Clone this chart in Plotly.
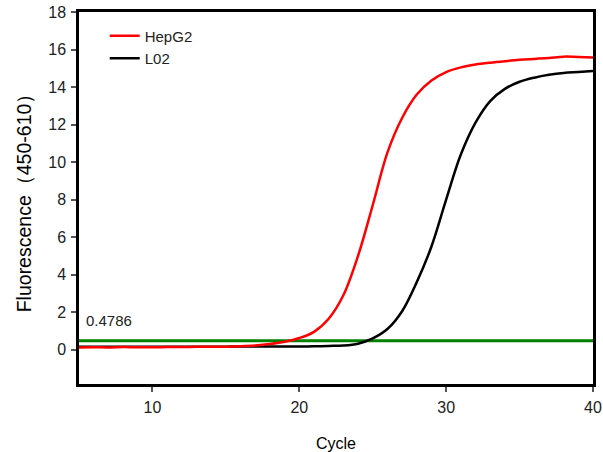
import plotly.graph_objects as go

cycles = list(range(5, 41))
hepg2 = [0.12, 0.13, 0.12, 0.14, 0.13, 0.13, 0.14, 0.14, 0.15, 0.15, 0.16, 0.18,
         0.22, 0.30, 0.42, 0.62, 0.95, 1.65, 2.90, 5.00, 7.70, 10.50, 12.35, 13.60,
         14.35, 14.80, 15.05, 15.20, 15.30, 15.38, 15.45, 15.50, 15.55, 15.62, 15.60, 15.58]
l02 = [0.15, 0.15, 0.15, 0.15, 0.16, 0.16, 0.16, 0.16, 0.16, 0.16, 0.16, 0.17,
       0.17, 0.17, 0.17, 0.17, 0.18, 0.20, 0.22, 0.32, 0.60, 1.10, 2.05, 3.60,
       5.50, 8.00, 10.40, 12.10, 13.25, 13.90, 14.28, 14.50, 14.65, 14.75, 14.80, 14.85]
threshold = 0.4786
threshold_x = [5, 40]

font = "Liberation Sans, Arial, sans-serif"

fig = go.Figure()
fig.add_trace(go.Scatter(x=threshold_x, y=[threshold, threshold], mode="lines",
                         line=dict(color="#008000", width=3), showlegend=False,
                         hoverinfo="skip"))
fig.add_trace(go.Scatter(x=cycles, y=l02, mode="lines", name="L02",
                         line=dict(color="black", width=2.5, shape="spline", smoothing=1.0)))
fig.add_trace(go.Scatter(x=cycles, y=hepg2, mode="lines", name="HepG2",
                         line=dict(color="red", width=2.5, shape="spline", smoothing=1.0)))

fig.add_annotation(x=5.35, y=1.55, xref="x", yref="y", text=f"{threshold}",
                   showarrow=False, xanchor="left", yanchor="middle",
                   font=dict(family=font, size=15, color="#222"))

axis_common = dict(showline=True, linewidth=2.5, linecolor="black", mirror=True,
                   ticks="outside", ticklen=5, tickwidth=1.5, tickcolor="#555",
                   showgrid=False, zeroline=False, automargin=False,
                   tickfont=dict(family=font, size=16, color="#222"))

fig.update_xaxes(range=[5, 40], tick0=0, dtick=10, ticklabelstandoff=2,
                 title=dict(text="Cycle", font=dict(family=font, size=16, color="black"),
                            standoff=23),
                 **axis_common)
fig.update_yaxes(range=[-1.83, 18], tick0=0, dtick=2, ticklabelstandoff=2,
                 title=dict(text="Fluorescence（450-610）",
                            font=dict(family=font, size=19.5, color="black"), standoff=12),
                 **axis_common)

fig.update_layout(
    width=603, height=452,
    margin=dict(l=79, r=10, t=12, b=68),
    plot_bgcolor="white", paper_bgcolor="white",
    legend=dict(x=0.05, y=0.98, xanchor="left", yanchor="top", traceorder="reversed",
                bgcolor="rgba(0,0,0,0)", font=dict(family=font, size=15, color="#222"),
                tracegroupgap=0, itemwidth=30),
)

fig.write_html("out.html", config={"displayModeBar": False},
               post_script="document.body.style.margin='0px';document.body.style.overflow='hidden';")
